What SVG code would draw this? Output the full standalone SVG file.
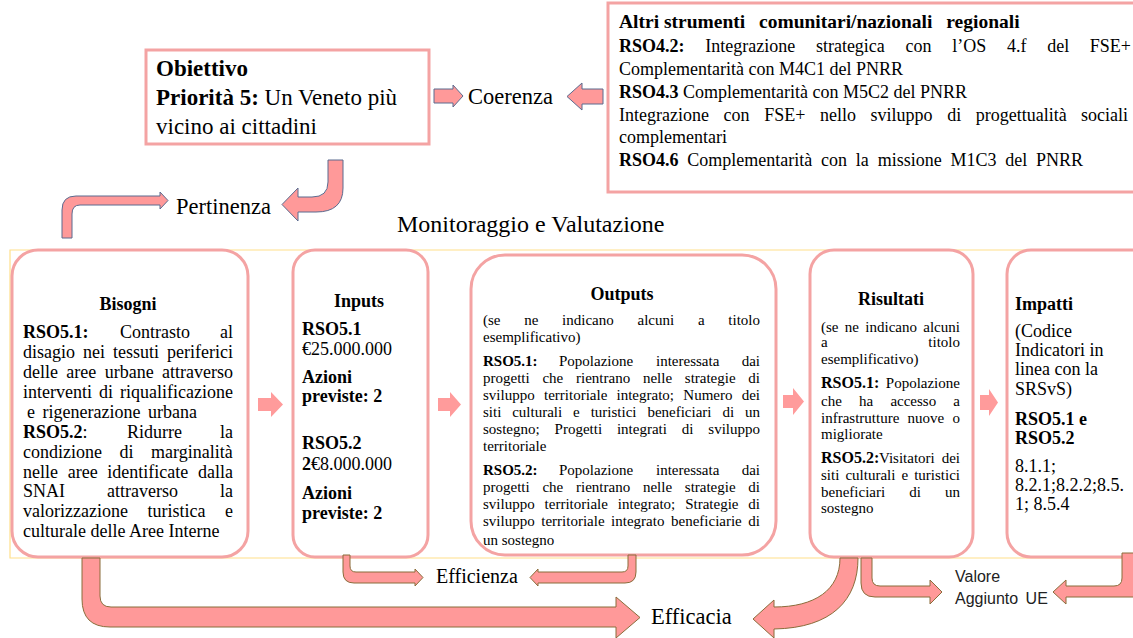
<svg xmlns="http://www.w3.org/2000/svg" width="1133" height="638" viewBox="0 0 1133 638">
<style>
.t{font-family:"Liberation Serif","Times New Roman",serif;fill:#000}
.b{font-weight:bold}
.s{font-family:"Liberation Sans",Arial,sans-serif;fill:#222}
.box{fill:#fff;stroke:#f4a3a3;stroke-width:3}
.frame{fill:none;stroke:#ffe08a;stroke-width:1.2}
.arr{fill:#ff9b9b}
.arrO{fill:#ff9999;stroke:#8a6d3b;stroke-width:1}
.arrB{fill:#ff9999;stroke:#5b6b8f;stroke-width:1}
.f15{font-size:15px}
.f18{font-size:18px}
</style>
<rect width="1133" height="638" fill="#fff"/>

<!-- frame -->
<path class="frame" d="M1133,250 H10 V558 H1133"/>

<g id="obiettivo">
<rect class="box" x="146" y="50" width="283" height="94"/>
<text class="t b" x="156" y="76" font-size="23">Obiettivo</text>
<text class="t" x="156" y="105" font-size="23"><tspan class="b">Priorità 5:</tspan> Un Veneto più</text>
<text class="t" x="156" y="134" font-size="23">vicino ai cittadini</text>
</g>

<g id="altri">
<rect class="box" x="608" y="3" width="560" height="189"/>
<text class="t b" y="28" font-size="19.5"><tspan x="619">Altri</tspan><tspan x="664">strumenti</tspan><tspan x="759">comunitari/nazionali</tspan><tspan x="946.3">regionali</tspan></text>
<text class="t f18" y="52"><tspan class="b" x="619">RSO4.2:</tspan><tspan x="705.2">Integrazione</tspan><tspan x="815.9">strategica</tspan><tspan x="905.6">con</tspan><tspan x="952.3">l’OS</tspan><tspan x="1007">4.f</tspan><tspan x="1047.2">del</tspan><tspan x="1089.8">FSE+</tspan></text>
<text class="t f18" x="619" y="75">Complementarità con M4C1 del PNRR</text>
<text class="t f18" x="619" y="98"><tspan class="b">RSO4.3</tspan> Complementarità con M5C2 del PNRR</text>
<text class="t f18" y="121"><tspan x="619">Integrazione</tspan><tspan x="723.6">con</tspan><tspan x="764.2">FSE+</tspan><tspan x="820">nello</tspan><tspan x="870.6">sviluppo</tspan><tspan x="947.2">di</tspan><tspan x="975.8">progettualità</tspan><tspan x="1081">sociali</tspan></text>
<text class="t f18" x="619" y="143">complementari</text>
<text class="t f18" x="619" y="166" word-spacing="4.3"><tspan class="b">RSO4.6</tspan> Complementarità con la missione M1C3 del PNRR</text>
</g>

<g id="coerenza">
<text class="t" x="468" y="104" font-size="22.5">Coerenza</text>
</g>
<g id="pertinenza">
<text class="t" x="176" y="214" font-size="22.5">Pertinenza</text>
</g>
<g id="monitoraggio">
<text class="t" x="397" y="232" font-size="24">Monitoraggio e Valutazione</text>
</g>

<g id="bisogni">
<rect class="box" x="12" y="250" width="236" height="307" rx="26"/>
<text class="t b f18" x="128" y="310" text-anchor="middle">Bisogni</text>
<g class="t f18">
<text y="338"><tspan class="b" x="23">RSO5.1:</tspan><tspan x="120">Contrasto</tspan><tspan x="220">al</tspan></text>
<text y="358"><tspan x="23">disagio</tspan><tspan x="83">nei</tspan><tspan x="113">tessuti</tspan><tspan x="167">periferici</tspan></text>
<text y="378"><tspan x="23">delle</tspan><tspan x="66.3">aree</tspan><tspan x="104.7">urbane</tspan><tspan x="162">attraverso</tspan></text>
<text y="398"><tspan x="23">interventi</tspan><tspan x="99">di</tspan><tspan x="120">riqualificazione</tspan></text>
<text x="27" y="418" word-spacing="3">e rigenerazione urbana</text>
<text y="438"><tspan x="23"><tspan class="b">RSO5.2</tspan>:</tspan><tspan x="127">Ridurre</tspan><tspan x="220">la</tspan></text>
<text y="458"><tspan x="23">condizione</tspan><tspan x="119.5">di</tspan><tspan x="151">marginalità</tspan></text>
<text y="478"><tspan x="23">nelle</tspan><tspan x="67.7">aree</tspan><tspan x="107.3">identificate</tspan><tspan x="198">dalla</tspan></text>
<text y="497"><tspan x="23">SNAI</tspan><tspan x="107">attraverso</tspan><tspan x="220">la</tspan></text>
<text y="517"><tspan x="23">valorizzazione</tspan><tspan x="147.5">turistica</tspan><tspan x="225">e</tspan></text>
<text x="23" y="537">culturale delle Aree Interne</text>
</g>
</g>

<g id="inputs">
<rect class="box" x="293" y="250" width="135" height="307" rx="22"/>
<g class="t f18">
<text class="b" x="359" y="307" text-anchor="middle">Inputs</text>
<text class="b" x="302" y="335">RSO5.1</text>
<text x="302" y="355">€25.000.000</text>
<text class="b" x="302" y="383">Azioni</text>
<text class="b" x="302" y="402">previste: 2</text>
<text class="b" x="302" y="449">RSO5.2</text>
<text x="302" y="470"><tspan class="b">2</tspan>€8.000.000</text>
<text class="b" x="302" y="499">Azioni</text>
<text class="b" x="302" y="519">previste: 2</text>
</g>
</g>

<g id="outputs">
<rect class="box" x="471" y="255" width="305" height="300" rx="34"/>
<text class="t b f18" x="622" y="300" text-anchor="middle">Outputs</text>
<g class="t f15">
<text y="325"><tspan x="483">(se</tspan><tspan x="524.2">ne</tspan><tspan x="562.1">indicano</tspan><tspan x="637.5">alcuni</tspan><tspan x="697.9">a</tspan><tspan x="728.3">titolo</tspan></text>
<text x="483" y="342">esemplificativo)</text>
<text y="366"><tspan class="b" x="483">RSO5.1:</tspan><tspan x="559">Popolazione</tspan><tspan x="656">interessata</tspan><tspan x="741.7">dai</tspan></text>
<text y="383"><tspan x="483">progetti</tspan><tspan x="542.4">che</tspan><tspan x="576">rientrano</tspan><tspan x="642.9">nelle</tspan><tspan x="684.8">strategie</tspan><tspan x="748.3">di</tspan></text>
<text y="400"><tspan x="483">sviluppo</tspan><tspan x="544">territoriale</tspan><tspan x="616.5">integrato;</tspan><tspan x="683.3">Numero</tspan><tspan x="741.7">dei</tspan></text>
<text y="417"><tspan x="483">siti</tspan><tspan x="512.2">culturali</tspan><tspan x="573.1">e</tspan><tspan x="590.7">turistici</tspan><tspan x="647.4">beneficiari</tspan><tspan x="722.4">di</tspan><tspan x="745">un</tspan></text>
<text y="434"><tspan x="483">sostegno;</tspan><tspan x="554.6">Progetti</tspan><tspan x="616.9">integrati</tspan><tspan x="681.8">di</tspan><tspan x="708.3">sviluppo</tspan></text>
<text x="483" y="451">territoriale</text>
<text y="475"><tspan class="b" x="483">RSO5.2:</tspan><tspan x="559">Popolazione</tspan><tspan x="656">interessata</tspan><tspan x="741.7">dai</tspan></text>
<text y="492"><tspan x="483">progetti</tspan><tspan x="542.4">che</tspan><tspan x="576">rientrano</tspan><tspan x="642.9">nelle</tspan><tspan x="684.8">strategie</tspan><tspan x="748.3">di</tspan></text>
<text y="509"><tspan x="483">sviluppo</tspan><tspan x="544.6">territoriale</tspan><tspan x="617.8">integrato;</tspan><tspan x="685.2">Strategie</tspan><tspan x="748.3">di</tspan></text>
<text y="526"><tspan x="483">sviluppo</tspan><tspan x="541.3">territoriale</tspan><tspan x="611.1">integrato</tspan><tspan x="671">beneficiarie</tspan><tspan x="748.3">di</tspan></text>
<text x="483" y="545">un sostegno</text>
</g>
</g>

<g id="risultati">
<rect class="box" x="810" y="250" width="163" height="307" rx="24"/>
<text class="t b f18" x="891" y="305" text-anchor="middle">Risultati</text>
<g class="t f15">
<text y="332"><tspan x="821">(se</tspan><tspan x="844.8">ne</tspan><tspan x="865.3">indicano</tspan><tspan x="923.3">alcuni</tspan></text>
<text y="347"><tspan x="821">a</tspan><tspan x="928.3">titolo</tspan></text>
<text x="821" y="364">esemplificativo)</text>
<text y="388"><tspan class="b" x="821" font-size="16">RSO5.1:</tspan><tspan x="885.8">Popolazione</tspan></text>
<text y="406"><tspan x="821">che</tspan><tspan x="859">ha</tspan><tspan x="890.4">accesso</tspan><tspan x="953.3">a</tspan></text>
<text y="423"><tspan x="821">infrastrutture</tspan><tspan x="907.6">nuove</tspan><tspan x="952.5">o</tspan></text>
<text x="821" y="439">migliorate</text>
<text y="463"><tspan class="b" x="821" font-size="16">RSO5.2:</tspan><tspan x="879">Visitatori</tspan><tspan x="941.7">dei</tspan></text>
<text y="480"><tspan x="821">siti</tspan><tspan x="845.4">culturali</tspan><tspan x="901.5">e</tspan><tspan x="914.2">turistici</tspan></text>
<text y="497"><tspan x="821">beneficiari</tspan><tspan x="909.2">di</tspan><tspan x="945">un</tspan></text>
<text x="821" y="513">sostegno</text>
</g>
</g>

<g id="impatti">
<rect class="box" x="1007" y="250" width="170" height="307" rx="24"/>
<g class="t f18">
<text class="b" x="1015" y="310">Impatti</text>
<text x="1015" y="337">(Codice</text>
<text x="1015" y="356">Indicatori in</text>
<text x="1015" y="375">linea con la</text>
<text x="1015" y="395">SRSvS)</text>
<text class="b" x="1015" y="425">RSO5.1 e</text>
<text class="b" x="1015" y="444">RSO5.2</text>
<text x="1015" y="472">8.1.1;</text>
<text x="1015" y="491">8.2.1;8.2.2;8.5.</text>
<text x="1015" y="510">1; 8.5.4</text>
</g>
</g>

<g id="efficienza"><text class="t" x="436" y="583" font-size="20">Efficienza</text></g>
<g id="efficacia"><text class="t" x="651" y="624" font-size="22.5">Efficacia</text></g>
<g id="valore">
<text class="s" x="955" y="582" font-size="16">Valore</text>
<text class="s" x="955" y="604" font-size="16" word-spacing="3">Aggiunto UE</text>
</g>

<g id="connectors">
<path class="arrB" d="M434,89 H453 V85 L463,96 L453,107 V103 H434 Z"/>
<path class="arrB" d="M603,89 H582 V83 L567,96.5 L582,110 V104 H603 Z"/>
<path class="arrB" d="M62,238 V210 Q62,196 76,196 H160 V192 L168,200.5 L160,209 V205 H80 Q72,205 72,214 V238 Z"/>
<path class="arrB" d="M328,160 H343 V188 Q343,212 316,212 H298 V221 L282,204.5 L298,188 V197 H312 Q328,197 328,182 Z"/>
<path class="arr" d="M258,398 H271 V392 L283,404.5 L271,417 V411 H258 Z"/>
<path class="arr" d="M438,398 H450 V392 L461,404.5 L450,417 V411 H438 Z"/>
<path class="arr" d="M783,395 H793 V388 L804,401.5 L793,415 V408 H783 Z"/>
<path class="arr" d="M980,395 H989 V389 L998,402.5 L989,416 V410 H980 Z"/>
<path class="arrO" d="M343,555 H350 V566 Q350,572 356,572 H415 V569 L423,577.5 L415,586 V583 H354 Q343,583 343,572 Z"/>
<path class="arrO" d="M636,555 H628 V566 Q628,572 622,572 H538 V569 L530,577.5 L538,586 V583 H625 Q636,583 636,572 Z"/>
<path class="arrO" d="M82,558 H100 V596 Q100,607 111,607 H616 V597 L640,617.5 L616,638 V627 H110 Q82,627 82,599 Z"/>
<path class="arrO" d="M840,558 H858 C858,600 832,628 774,629 V638 L753,619 L774,600 V607 C815,607 840,590 840,558 Z"/>
<path class="arrO" d="M861,558 H872 V578 Q872,586 880,586 H930 V580 L942,592 L930,604 V597 H875 Q861,597 861,583 Z"/>
<path class="arrO" d="M1122,553 V578 Q1122,586 1114,586 H1066 V580 L1053,592 L1066,604 V597 H1140 V553 Z"/>
</g>
</svg>
